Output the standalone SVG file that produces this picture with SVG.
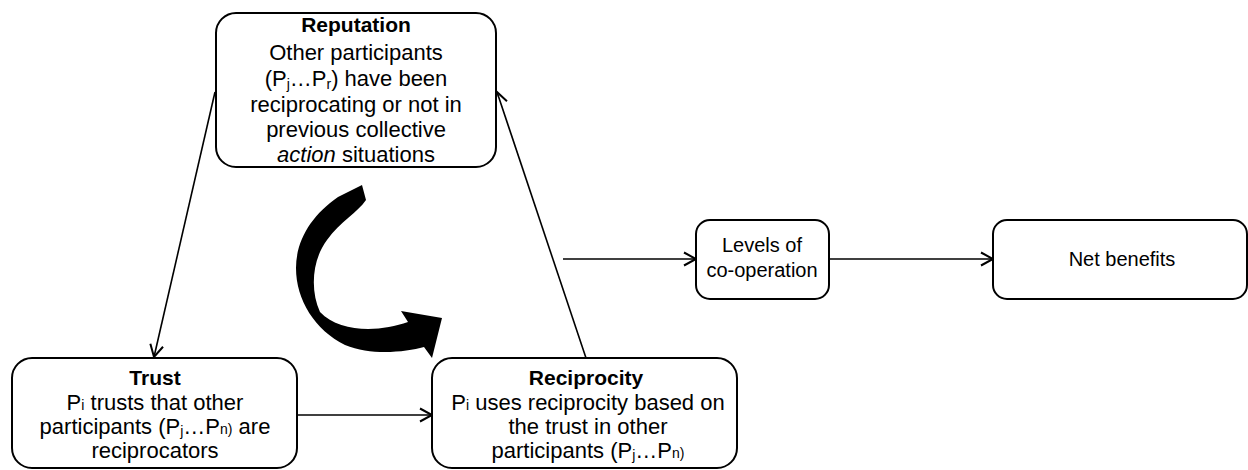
<svg xmlns="http://www.w3.org/2000/svg" width="1248" height="470" viewBox="0 0 1248 470">
<style>
.box{fill:#fff;stroke:#000;stroke-width:2}
.t{font-family:"Liberation Sans",Arial,sans-serif;font-size:22px;fill:#000;text-anchor:middle}
.b{font-weight:bold;font-size:21px}
.s{font-size:14px}
.m{font-size:20px}
.con{stroke:#000;stroke-width:1.6;fill:none}
</style>
<defs>
<marker id="ah" markerUnits="userSpaceOnUse" markerWidth="16" markerHeight="16" refX="13" refY="8" orient="auto" viewBox="0 0 16 16">
<path d="M1,1.5 L13,8 L1,14.5" fill="none" stroke="#000" stroke-width="2"/>
</marker>
</defs>
<g id="connectors">
<line class="con" x1="215" y1="92" x2="154" y2="357" marker-end="url(#ah)"/>
<line class="con" x1="586" y1="358" x2="497" y2="92" marker-end="url(#ah)"/>
<line class="con" x1="297" y1="415" x2="432" y2="415" marker-end="url(#ah)"/>
<line class="con" x1="563" y1="259" x2="696" y2="259" marker-end="url(#ah)"/>
<line class="con" x1="829" y1="259" x2="993" y2="259" marker-end="url(#ah)"/>
<path id="cycle-arrow" d="M362 185 L338 197 C312 215 296 240 296 268 C296 300 315 330 345 345 C372 356 405 352 424 347 L432 358 L442 318 L401 311 L408 322 C380 332 340 333 320 312 C310 290 312 260 327 240 C340 222 358 212 366 200 Z" fill="#000"/>
</g>
<g id="reputation">
<rect class="box" x="216" y="13" width="280" height="154" rx="20"/>
<text class="t b" x="356" y="32">Reputation</text>
<text class="t" x="356" y="60">Other participants</text>
<text class="t" x="356" y="86">(P<tspan class="s" dy="3">j</tspan><tspan dy="-3">…P</tspan><tspan class="s" dy="3">r</tspan><tspan dy="-3">) have been</tspan></text>
<text class="t" x="356" y="112">reciprocating or not in</text>
<text class="t" x="356" y="137">previous collective</text>
<text class="t" x="356" y="162"><tspan font-style="italic">action</tspan> situations</text>
</g>
<g id="trust">
<rect class="box" x="12" y="358" width="285" height="110" rx="20"/>
<text class="t b" x="155" y="385">Trust</text>
<text class="t" x="155" y="410">P<tspan class="s">i</tspan> trusts that other</text>
<text class="t" x="155" y="434">participants (P<tspan class="s" dy="2">j</tspan><tspan dy="-2">…P</tspan><tspan class="s">n)</tspan> are</text>
<text class="t" x="155" y="458">reciprocators</text>
</g>
<g id="reciprocity">
<rect class="box" x="432" y="358" width="305" height="110" rx="20"/>
<text class="t b" x="586" y="385">Reciprocity</text>
<text class="t" x="588" y="410">P<tspan class="s">i</tspan> uses reciprocity based on</text>
<text class="t" x="588" y="434">the trust in other</text>
<text class="t" x="588" y="458">participants (P<tspan class="s" dy="2">j</tspan><tspan dy="-2">…P</tspan><tspan class="s">n)</tspan></text>
</g>
<g id="levels">
<rect class="box" x="696" y="220" width="133" height="79" rx="14"/>
<text class="t m" x="762" y="252">Levels of</text>
<text class="t m" x="762" y="277">co-operation</text>
</g>
<g id="net-benefits">
<rect class="box" x="993" y="220" width="254" height="79" rx="14"/>
<text class="t m" x="1122" y="266">Net benefits</text>
</g>
</svg>
